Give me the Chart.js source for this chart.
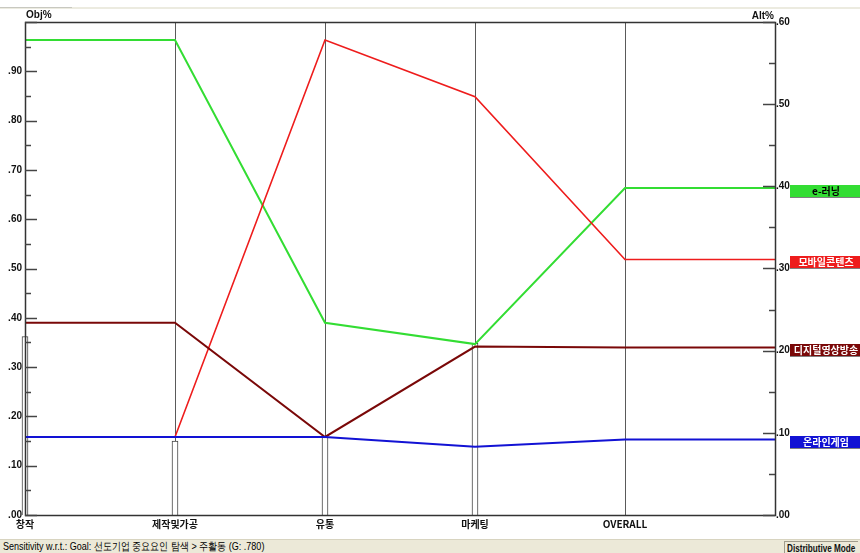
<!DOCTYPE html>
<html>
<head>
<meta charset="utf-8">
<script src="https://cdn.jsdelivr.net/npm/chart.js@4.4.1/dist/chart.umd.min.js"></script>
<style>
  body { margin: 0; background: #fff; width: 860px; height: 553px; overflow: hidden; font-family: 'Liberation Sans', sans-serif; }
  #wrap { position: relative; width: 860px; height: 539px; }
  #status { position: absolute; left: 0; top: 539px; width: 860px; height: 14px; background: #ece9d8; border-top: 1px solid #d8d4c0; box-sizing: border-box; }
  #status .left { position: absolute; left: 3px; top: 0; font-size: 11px; line-height: 13px; color: #000; white-space: nowrap; transform: scaleX(0.82); transform-origin: left center; }
  #status .right { position: absolute; left: 784px; top: 1px; width: 74px; height: 13px; border-left: 1px solid #a09c8c; border-top: 1px solid #a09c8c; box-sizing: border-box; overflow: visible; }
  #status .right span { position: absolute; left: 2px; top: 0; font-size: 11px; line-height: 12px; font-weight: bold; color: #111; white-space: nowrap; transform: scaleX(0.74); transform-origin: left center; }
</style>
</head>
<body>
<div id="wrap"><canvas id="chart" width="860" height="539"></canvas></div>
<div id="status"><span class="left">Sensitivity w.r.t.: Goal: 선도기업 중요요인 탐색 &gt; 주활동 (G: .780)</span><span class="right"><span>Distributive Mode</span></span></div>
<script>
// criteria along the x axis (last one is the overall result)
const criteria = ['창작', '제작및가공', '유통', '마케팅', 'OVERALL'];
// criteria weights, left axis (Obj%)
const critWeights = [0.362, 0.150, 0.158, 0.348];

// alternatives, right axis (Alt%)
const altNames = ['e-러닝', '모바일콘텐츠', '디지털영상방송', '온라인게임'];
const eLearning = [0.578, 0.578, 0.234, 0.208, 0.398];
const mobileContent = [0.095, 0.095, 0.578, 0.509, 0.311];
const digitalBroadcast = [0.234, 0.234, 0.095, 0.205, 0.204];
const onlineGame = [0.095, 0.095, 0.095, 0.083, 0.092];

const altValues = [eLearning, mobileContent, digitalBroadcast, onlineGame];
const altColors = ['#33dd33', '#ee1c1c', '#7a0808', '#1212d4'];
const altText = ['#000', '#fff', '#fff', '#fff'];

const sans = "'Liberation Sans', sans-serif";
const kr = "'Noto Sans CJK KR', sans-serif";

function toPoints(vals) {
    const pts = vals.map((v, i) => ({ x: i, y: v }));
    pts.push({ x: criteria.length, y: vals[vals.length - 1] }); // run on to the right axis
    return pts;
}

function fmt(v) {
    return '.' + v.toFixed(2).split('.')[1];
}

// frame, inside tick marks, axis titles and the right-hand labels
const decorPlugin = {
    id: 'decor',
    beforeDraw(chart) {
        const ctx = chart.ctx;
        ctx.save();
        ctx.fillStyle = '#ecebe0';
        ctx.fillRect(0, 7, 860, 2);
        ctx.fillStyle = '#c8c8c0';
        ctx.fillRect(0, 7, 72, 1);
        ctx.restore();
    },
    afterDatasetsDraw(chart) {
        const ctx = chart.ctx;
        const a = chart.chartArea;
        const yObj = chart.scales.yObj;
        const yAlt = chart.scales.yAlt;
        ctx.save();
        ctx.strokeStyle = '#333';
        ctx.lineWidth = 1.5;
        ctx.strokeRect(a.left + 0.5, a.top + 0.5, a.right - a.left, a.bottom - a.top);

        ctx.lineWidth = 1.5;
        ctx.strokeStyle = '#444';
        for (let i = 0; i <= 20; i++) {
            const y = Math.round(yObj.getPixelForValue(i * 0.05)) + 0.5;
            ctx.beginPath();
            ctx.moveTo(a.left, y);
            ctx.lineTo(a.left + (i % 2 === 0 ? 12 : 6), y);
            ctx.stroke();
        }
        for (let i = 0; i <= 12; i++) {
            const y = Math.round(yAlt.getPixelForValue(i * 0.05)) + 0.5;
            ctx.beginPath();
            ctx.moveTo(a.right, y);
            ctx.lineTo(a.right - (i % 2 === 0 ? 12 : 6), y);
            ctx.stroke();
        }

        ctx.fillStyle = '#111';
        ctx.font = 'bold 10px ' + sans;
        ctx.textBaseline = 'middle';
        ctx.textAlign = 'left';
        ctx.fillText('Obj%', a.left + 1, 15);
        ctx.textAlign = 'right';
        ctx.fillText('Alt%', a.right - 1, 16);

        // labels of the alternatives at their overall value
        altNames.forEach((name, i) => {
            const vals = altValues[i];
            const y = Math.round(yAlt.getPixelForValue(vals[vals.length - 1]));
            ctx.fillStyle = '#808080';
            ctx.fillRect(790, y - 3, 70, 13);
            ctx.fillStyle = altColors[i];
            ctx.fillRect(790, y - 3, 70, 12);
            ctx.fillStyle = altText[i];
            ctx.font = 'bold 10px ' + kr;
            ctx.textAlign = 'center';
            ctx.textBaseline = 'middle';
            ctx.fillText(name, 826, y + 3);
        });
        ctx.restore();
    }
};

const datasets = altNames.map((name, i) => ({
    type: 'line',
    label: name,
    data: toPoints(altValues[i]),
    xAxisID: 'x',
    yAxisID: 'yAlt',
    borderColor: altColors[i],
    borderWidth: i === 1 ? 1.6 : 2,
    pointRadius: 0,
    tension: 0,
    order: 4 - i
}));

datasets.push({
    type: 'bar',
    label: 'weights',
    data: critWeights.map((w, i) => ({ x: i, y: w })),
    xAxisID: 'x',
    yAxisID: 'yObj',
    backgroundColor: '#ffffff',
    borderColor: '#444',
    borderWidth: 1,
    barThickness: 6,
    clip: false,
    order: 10
});

new Chart(document.getElementById('chart'), {
    type: 'line',
    data: { datasets },
    options: {
        responsive: false,
        animation: false,
        layout: { padding: { top: 22, left: 0, right: 0, bottom: 0 } },
        plugins: { legend: { display: false }, tooltip: { enabled: false } },
        scales: {
            x: {
                type: 'linear',
                min: 0,
                max: criteria.length,
                offset: false,
                afterFit: s => { s.height = 24; },
                afterBuildTicks: s => { s.ticks = criteria.map((c, i) => ({ value: i })).concat([{ value: criteria.length }]); },
                grid: { color: '#5a5a5a', lineWidth: 1, drawTicks: false, offset: false },
                border: { display: false },
                ticks: {
                    autoSkip: false,
                    maxRotation: 0,
                    padding: 3,
                    color: '#111',
                    font: { family: kr, size: 10, weight: 'bold' },
                    callback: v => criteria[v] || ''
                }
            },
            yObj: {
                type: 'linear',
                position: 'left',
                min: 0,
                max: 1,
                afterFit: s => { s.width = 25; },
                grid: { display: false, drawTicks: false },
                border: { display: false },
                ticks: {
                    stepSize: 0.1,
                    autoSkip: false,
                    padding: 3,
                    color: '#111',
                    font: { family: sans, size: 10, weight: 'bold' },
                    callback: v => (v < 0.999 ? fmt(v) : '')
                }
            },
            yAlt: {
                type: 'linear',
                position: 'right',
                min: 0,
                max: 0.6,
                afterFit: s => { s.width = 85; },
                grid: { display: false, drawTicks: false },
                border: { display: false },
                ticks: {
                    stepSize: 0.1,
                    autoSkip: false,
                    padding: 1,
                    color: '#111',
                    font: { family: sans, size: 10, weight: 'bold' },
                    callback: v => fmt(v)
                }
            }
        }
    },
    plugins: [decorPlugin]
});
</script>
</body>
</html>
